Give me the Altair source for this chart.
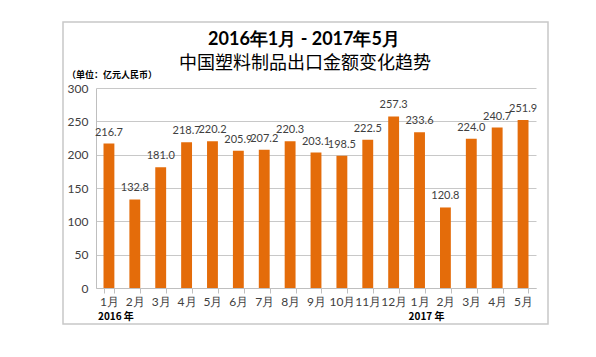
import altair as alt
import pandas as pd

months = ["2016年1月", "2016年2月", "2016年3月", "2016年4月", "2016年5月", "2016年6月",
          "2016年7月", "2016年8月", "2016年9月", "2016年10月", "2016年11月", "2016年12月",
          "2017年1月", "2017年2月", "2017年3月", "2017年4月", "2017年5月"]
values = [216.7, 132.8, 181.0, 218.7, 220.2, 205.9, 207.2, 220.3, 203.1, 198.5,
          222.5, 257.3, 233.6, 120.8, 224.0, 240.7, 251.9]
y_ticks = [0, 50, 100, 150, 200, 250, 300]
year_cats = ["2016年1月", "2017年1月"]
year_labels = ["2016 年", "2017 年"]
title1 = "2016年1月 - 2017年5月"
title2 = "中国塑料制品出口金额变化趋势"
unit = "（单位：亿元人民币）"

df = pd.DataFrame({"k": months, "v": values})
ydf = pd.DataFrame({"k": year_cats, "t": year_labels})
one = pd.DataFrame({"a": [0]})

FONT = "Lato"
CJK = "Noto Sans CJK SC"

xenc = alt.X("k:N", sort=months,
             scale=alt.Scale(paddingInner=0.58, paddingOuter=0.29),
             axis=alt.Axis(title=None, labelExpr="split(datum.label,'年')[1]",
                           labelAngle=0, labelFont=FONT, labelFontSize=12,
                           labelColor="#404040", labelPadding=3, labelOverlap=False,
                           domainColor="#bfbfbf", tickColor="#bfbfbf",
                           tickSize=5, tickBand="extent", grid=False))
yenc = alt.Y("v:Q", scale=alt.Scale(domain=[0, 300]),
             axis=alt.Axis(title=None, values=y_ticks,
                           labelFont=FONT, labelFontSize=12, labelColor="#404040",
                           labelPadding=8, ticks=False, domainColor="#bfbfbf",
                           labelOverlap=False, gridColor="#c8c8c8", gridWidth=1))

base = alt.Chart(df)
bars = base.mark_bar(color="#E46C0A").encode(x=xenc, y=yenc)
labels = base.mark_text(dy=-11, font=FONT, fontSize=11, color="#404040").encode(
    x=xenc, y=yenc, text=alt.Text("v:Q", format=".1f"))
years = alt.Chart(ydf).mark_text(font=CJK, fontSize=10, fontWeight="bold",
                                 color="#000000", dx=7).encode(
    x=xenc, y=alt.value(229), text="t:N")

ann = alt.Chart(one)
frame = ann.mark_rect(fill=None, stroke="#c8c8c8", strokeWidth=1.5).encode(
    x=alt.value(-33), x2=alt.value(452), y=alt.value(-66), y2=alt.value(236))
t1 = ann.mark_text(font=FONT, fontSize=18, fontWeight="bold", color="#000000").encode(
    x=alt.value(208), y=alt.value(-48), text=alt.value(title1))
t2 = ann.mark_text(font=CJK, fontSize=18, fontWeight="normal", color="#000000").encode(
    x=alt.value(209), y=alt.value(-24), text=alt.value(title2))
tu = ann.mark_text(font=CJK, fontSize=9, fontWeight="bold", color="#000000",
                   align="left").encode(
    x=alt.value(-29), y=alt.value(-13), text=alt.value(unit))

chart = alt.layer(frame, bars, labels, years, t1, t2, tu).properties(
    width=440, height=200,
    padding={"left": 88, "top": 80, "right": 40, "bottom": 40},
    autosize=alt.AutoSizeParams(type="none"),
    background="white"
).configure_view(stroke=None)

chart.save("out.html", embed_options={"renderer": "svg", "actions": False})
